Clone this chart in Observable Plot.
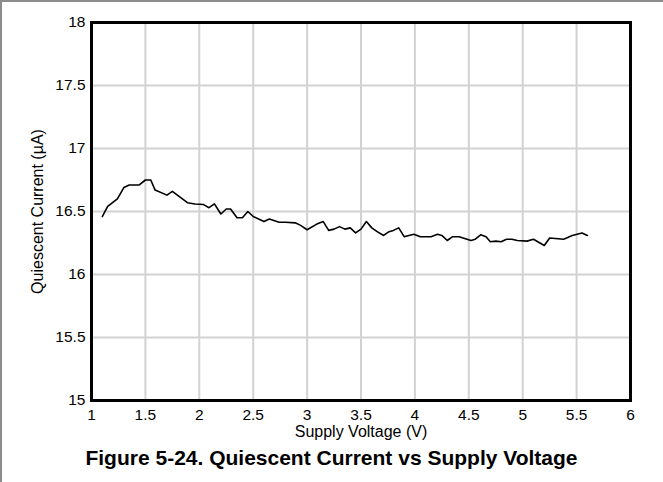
<!DOCTYPE html>
<html>
<head>
<meta charset="utf-8">
<script src="https://cdn.jsdelivr.net/npm/d3@7"></script>
<script src="https://cdn.jsdelivr.net/npm/@observablehq/plot@0.6"></script>
<style>
  html, body { margin: 0; padding: 0; background: #fff; }
  #wrap { position: relative; width: 663px; height: 482px; overflow: hidden; font-family: "Liberation Sans", Arial, sans-serif; }
  #border { position: absolute; left: 0; top: 0; width: 663px; height: 482px; box-sizing: border-box; border-top: 2px solid #8c8c8c; border-left: 2px solid #8c8c8c; pointer-events: none; }
  #chart { position: absolute; left: 0; top: 0; }
  #chart g[aria-label$="tick label"], #chart g[aria-label$="tick label"] text { font-size: 15.5px !important; }
  #caption { position: absolute; left: 0; top: 446px; width: 663px; text-align: center; font-weight: bold; font-size: 21px; line-height: 24px; color: #000; }
</style>
</head>
<body>
<div id="wrap">
  <div id="chart"></div>
  <div id="caption">Figure 5-24. Quiescent Current vs Supply Voltage</div>
  <div id="border"></div>
</div>
<script>
const supplyVoltage = [1.10,1.15,1.24,1.30,1.35,1.44,1.50,1.55,1.59,1.70,1.75,1.89,1.96,2.04,2.09,2.14,2.20,2.25,2.29,2.35,2.40,2.45,2.50,2.60,2.65,2.74,2.80,2.89,2.94,3.00,3.09,3.15,3.20,3.25,3.30,3.35,3.40,3.45,3.50,3.55,3.60,3.65,3.71,3.76,3.80,3.85,3.90,3.99,4.05,4.15,4.21,4.25,4.30,4.35,4.41,4.52,4.56,4.61,4.66,4.70,4.75,4.80,4.85,4.90,4.95,5.04,5.10,5.20,5.25,5.38,5.46,5.55,5.60];
const quiescentCurrent = [16.46,16.54,16.60,16.69,16.71,16.71,16.75,16.75,16.67,16.63,16.66,16.57,16.56,16.555,16.53,16.56,16.48,16.52,16.52,16.45,16.45,16.50,16.46,16.42,16.44,16.415,16.415,16.41,16.39,16.355,16.40,16.42,16.35,16.36,16.38,16.36,16.37,16.33,16.36,16.42,16.37,16.34,16.31,16.34,16.35,16.37,16.30,16.32,16.30,16.30,16.32,16.31,16.27,16.30,16.30,16.27,16.28,16.315,16.30,16.26,16.265,16.26,16.28,16.28,16.27,16.265,16.28,16.23,16.29,16.28,16.31,16.33,16.31];
const xTicks = [1,1.5,2,2.5,3,3.5,4,4.5,5,5.5,6];
const yTicks = [15,15.5,16,16.5,17,17.5,18];
const xTitle = "Supply Voltage (V)";
const yTitle = "Quiescent Current (\u00B5A)";

const data = supplyVoltage.map((v, i) => ({v, c: quiescentCurrent[i]}));

const chart = Plot.plot({
  width: 663,
  height: 440,
  marginLeft: 91,
  marginRight: 33,
  marginTop: 22,
  marginBottom: 40,
  style: { fontFamily: "'Liberation Sans', Arial, sans-serif", fontSize: "15px", color: "#000", background: "transparent" },
  x: { domain: [1, 6] },
  y: { domain: [15, 18] },
  marks: [
    Plot.gridX(xTicks, { stroke: "#d2d2d2", strokeWidth: 2, strokeOpacity: 1 }),
    Plot.gridY(yTicks, { stroke: "#d2d2d2", strokeWidth: 2, strokeOpacity: 1 }),
    Plot.line(data, { x: "v", y: "c", stroke: "#000", strokeWidth: 1.6 }),
    Plot.frame({ stroke: "#000", strokeWidth: 3 }),
    Plot.axisX(xTicks, { tickSize: 0, tickPadding: 8, tickFormat: d => String(d), label: null, fontSize: 15.5 }),
    Plot.axisY(yTicks, { tickSize: 0, tickPadding: 6, tickFormat: d => String(d), label: null, fontSize: 15.5 }),
    Plot.text([xTitle], { frameAnchor: "bottom", dy: 36, text: d => d, fontSize: 16, textAnchor: "middle" }),
    Plot.text([yTitle], { frameAnchor: "left", dx: -54, rotate: -90, text: d => d, fontSize: 16, textAnchor: "middle" })
  ]
});
document.getElementById("chart").appendChild(chart);
</script>
</body>
</html>
